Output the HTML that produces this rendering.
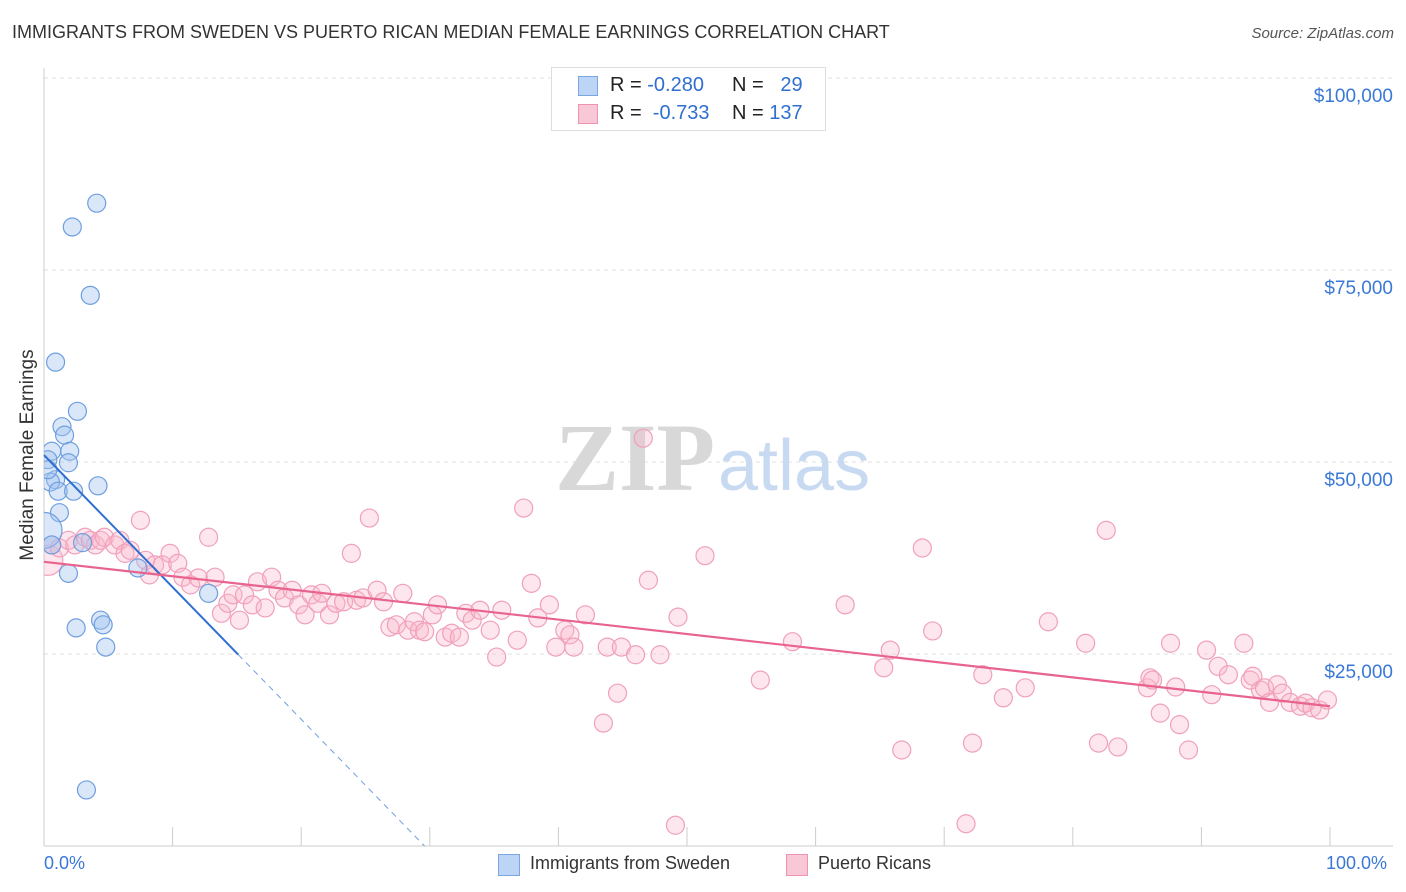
<!DOCTYPE html>
<html><head><meta charset="utf-8"><style>
body{margin:0;background:#fff;font-family:"Liberation Sans",sans-serif;}
#wrap{position:relative;width:1406px;height:892px;overflow:hidden}
.t{position:absolute;white-space:nowrap}
</style></head><body>
<div id="wrap">
<div class="t" style="left:12px;top:22px;font-size:18px;color:#333">IMMIGRANTS FROM SWEDEN VS PUERTO RICAN MEDIAN FEMALE EARNINGS CORRELATION CHART</div>
<div class="t" style="right:12px;top:25px;font-size:15px;color:#555;font-style:italic">Source: ZipAtlas.com</div>
<svg id="svg" width="1406" height="892" style="position:absolute;left:0;top:0"></svg>
<div style="position:absolute;left:551px;top:67px;width:273px;height:62px;border:1px solid #ddd;background:#fff;font-size:20px;color:#222">
 <div style="position:absolute;left:26px;top:8px;width:18px;height:18px;background:#bcd4f5;border:1px solid #7aa7e0"></div>
 <div class="t" style="left:58px;top:6px">R = <span style="color:#2f6fd0">-0.280</span></div>
 <div class="t" style="left:180px;top:6px">N = <span style="color:#2f6fd0">&nbsp;&nbsp;29</span></div>
 <div style="position:absolute;left:26px;top:36px;width:18px;height:18px;background:#f9c8d6;border:1px solid #ef93b0"></div>
 <div class="t" style="left:58px;top:34px">R = <span style="color:#2f6fd0">&nbsp;-0.733</span></div>
 <div class="t" style="left:180px;top:34px">N = <span style="color:#2f6fd0">137</span></div>
</div>
<div class="t" style="left:-82px;top:444px;font-size:19px;color:#333;transform:rotate(-90deg);width:220px;text-align:center">Median Female Earnings</div>
<div class="t" style="left:44px;top:853px;font-size:18px;color:#3a78d8">0.0%</div>
<div class="t" style="left:1326px;top:853px;font-size:18px;color:#3a78d8">100.0%</div>
<div style="position:absolute;left:498px;top:853px;font-size:18px;color:#333">
 <div style="position:absolute;left:0;top:1px;width:20px;height:20px;background:#bcd4f5;border:1px solid #7aa7e0"></div>
 <div class="t" style="left:32px;top:0">Immigrants from Sweden</div></div>
<div style="position:absolute;left:786px;top:853px;font-size:18px;color:#333">
 <div style="position:absolute;left:0;top:1px;width:20px;height:20px;background:#f9c8d6;border:1px solid #ef93b0"></div>
 <div class="t" style="left:32px;top:0">Puerto Ricans</div></div>
</div>
<script>
const yTicks=[25000,50000,75000,100000];
const yTickLabels=["$25,000","$50,000","$75,000","$100,000"];
const blueX=[4.1,2.2,3.6,0.9,2.6,1.4,1.6,2.0,0.6,0.3,1.9,0.9,0.5,1.1,2.3,4.2,1.2,0,3.0,1.9,2.5,4.4,4.6,4.8,7.3,12.8,3.3,0.3,0.6];
const blueY=[83.7,80.6,71.7,63.0,56.6,54.6,53.5,51.4,51.4,50.3,49.9,47.7,47.4,46.2,46.2,46.9,43.4,41.1,39.5,35.5,28.4,29.4,28.8,25.9,36.2,32.9,7.3,49.0,39.2];
const pinkX=[0.3,0.6,1.2,1.9,2.4,3.2,3.6,4.0,4.4,4.7,5.5,5.9,6.3,6.7,7.5,7.9,8.2,8.6,9.2,9.8,10.4,10.8,11.4,12.0,12.8,13.3,13.8,14.3,14.7,15.2,15.6,16.2,16.6,17.2,17.7,18.2,18.7,19.3,19.8,20.3,20.8,21.3,21.6,22.2,22.7,23.3,23.9,24.3,24.8,25.3,25.9,26.4,26.9,27.4,27.9,28.3,28.8,29.2,29.6,30.2,30.6,31.2,31.7,32.3,32.8,33.3,33.9,34.7,35.2,35.6,36.8,37.3,37.9,38.4,39.3,39.8,40.5,40.9,41.2,42.1,43.5,43.8,44.6,44.9,46.0,46.6,47.0,47.9,49.3,49.1,51.4,55.7,58.2,62.3,65.3,65.8,66.7,68.3,69.1,71.7,72.2,73.0,74.6,76.3,78.1,81.0,82.0,82.6,83.5,85.8,86.0,86.2,86.8,87.6,88.0,88.3,89.0,90.4,90.8,91.3,92.1,93.3,93.8,94.0,94.6,94.9,95.3,95.9,96.3,96.9,97.7,98.1,98.6,99.2,99.8];
const pinkY=[37.2,39.2,38.8,39.8,39.2,40.2,39.8,39.2,39.8,40.2,39.2,39.8,38.1,38.5,42.4,37.2,35.3,36.6,36.6,38.1,36.8,35.0,34.0,34.9,40.2,35.0,30.3,31.6,32.7,29.4,32.7,31.4,34.4,31.0,35.0,33.3,32.3,33.3,31.4,30.1,32.7,31.6,32.9,30.1,31.6,31.8,38.1,32.0,32.3,42.7,33.3,31.8,28.5,28.8,32.9,28.1,29.2,28.1,27.9,30.1,31.4,27.2,27.7,27.2,30.3,29.4,30.7,28.1,24.6,30.7,26.8,44.0,34.2,29.7,31.4,25.9,28.1,27.5,25.9,30.1,16.0,25.9,19.9,25.9,24.9,53.1,34.6,24.9,29.8,2.7,37.8,21.6,26.6,31.4,23.2,25.5,12.5,38.8,28.0,2.9,13.4,22.3,19.3,20.6,29.2,26.4,13.4,41.1,12.9,20.6,21.9,21.6,17.3,26.4,20.7,15.8,12.5,25.5,19.7,23.4,22.3,26.4,21.6,22.1,20.3,20.6,18.7,21.0,19.9,18.7,18.2,18.6,18.0,17.7,19.0];
const blueTrend=[50.9,-1.72];
const pinkTrend=[37.0,18.2];
const X=p=>44+p*12.86, Y=k=>846-k*1000*192/25000;
const svg=document.getElementById('svg'),NS="http://www.w3.org/2000/svg";
function mk(t,a,p){const e=document.createElementNS(NS,t);for(const k in a)e.setAttribute(k,a[k]);(p||svg).appendChild(e);return e;}
const defs=mk('defs',{});
const cp=mk('clipPath',{id:'pc'},defs);
mk('rect',{x:44,y:60,width:1360,height:786},cp);
yTicks.forEach((v,i)=>{const y=Y(v/1000);
 const g=mk('line',{x1:44,x2:1393,y1:y,y2:y,stroke:'#e2e2e2','stroke-dasharray':'4,4'});
 
 
 const t=mk('text',{x:1393,y:y+24,'text-anchor':'end','font-size':19,fill:'#3a78d8','font-family':'Liberation Sans'});
 t.textContent=yTickLabels[i];
 
 });
const ax=mk('line',{x1:44,x2:44,y1:68,y2:846,stroke:'#ccc'});


const bx=mk('line',{x1:44,x2:1393,y1:846,y2:846,stroke:'#ccc'});


for(let i=0;i<=10;i++){const tk=mk('line',{x1:X(i*10),x2:X(i*10),y1:827,y2:846,stroke:'#ccc'});
 
 }
const wm=mk('text',{x:555,y:490,'font-size':96,fill:'#d8d8d8','font-family':'Liberation Serif','font-weight':'bold'});
wm.textContent='ZIP';


const wm2=mk('text',{x:718,y:490,'font-size':72,fill:'#c8daf2','font-family':'Liberation Sans'});
wm2.textContent='atlas';


const G=mk('g',{'clip-path':'url(#pc)'});
pinkX.forEach((x,i)=>{const c=mk('circle',{cx:X(x),cy:Y(pinkY[i]),r:i===0?15:9,fill:'rgba(248,182,204,0.35)',stroke:'#f0a0bb','stroke-width':1.2},G);
 
 });
blueX.forEach((x,i)=>{const c=mk('circle',{cx:X(x),cy:Y(blueY[i]),r:x===0?18:9,fill:'rgba(160,195,240,0.4)',stroke:'#6f9fdf','stroke-width':1.2},G);
 
 });
const bz=-blueTrend[0]/blueTrend[1];
const b1=mk('line',{x1:X(0),y1:Y(blueTrend[0]),x2:X(15.1),y2:Y(blueTrend[0]+blueTrend[1]*15.1),stroke:'#2f6fd0','stroke-width':2});


const b2=mk('line',{x1:X(15.1),y1:Y(blueTrend[0]+blueTrend[1]*15.1),x2:X(bz),y2:Y(0),stroke:'#6f9fdf','stroke-width':1,'stroke-dasharray':'6,5'});


const p1=mk('line',{x1:X(0),y1:Y(pinkTrend[0]),x2:X(100),y2:Y(pinkTrend[1]),stroke:'#e8638e','stroke-width':2.2});


</script>
</body></html>
